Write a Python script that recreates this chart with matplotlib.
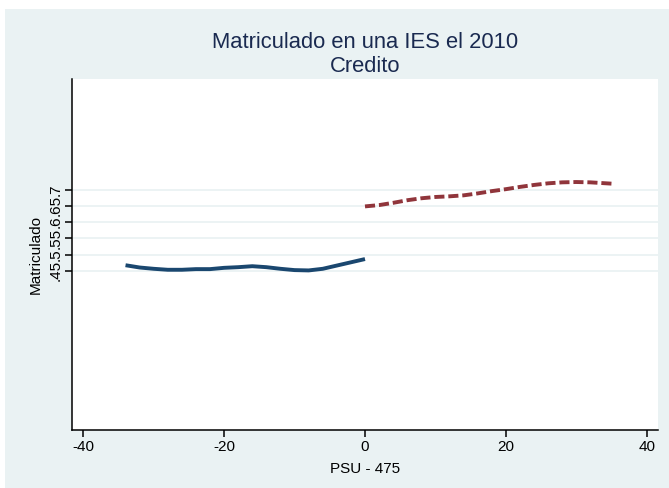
import matplotlib
matplotlib.use('Agg')
import matplotlib.pyplot as plt
from matplotlib.patches import Rectangle

plt.rcParams['font.family'] = ['Liberation Sans', 'DejaVu Sans']

# left of cutoff (PSU - 475 < 0)
x_left = [-34, -32, -30, -28, -26, -24, -22, -20, -18, -16, -14, -12, -10, -8, -6, -4, -2, 0]
y_left = [.467, .460, .456, .453, .453, .455, .455, .459, .461, .464, .461, .456, .452,
          .451, .456, .466, .476, .486]

# right of cutoff
x_right = [0, 2, 4, 6, 8, 10, 12, 14, 16, 18, 20, 22, 24, 26, 28, 30, 32, 35]
y_right = [.648, .652, .659, .667, .673, .677, .679, .682, .688, .695, .701, .708, .714,
           .719, .722, .723, .722, .718]

yticks = [.45, .5, .55, .6, .65, .7]
ytick_labels = ['.45', '.5', '.55', '.6', '.65', '.7']
xticks = [-40, -20, 0, 20, 40]

W, H = 669, 488
bg = '#EAF2F3'
fig = plt.figure(figsize=(W / 100, H / 100), dpi=100, facecolor=bg)
# white strips on top and left (exported stata graph)
fig.patches.append(Rectangle((0, 1 - 9 / H), 1, 9 / H, transform=fig.transFigure,
                             facecolor='white', edgecolor='none', zorder=-10))
fig.patches.append(Rectangle((0, 0), 5 / W, 1, transform=fig.transFigure,
                             facecolor='white', edgecolor='none', zorder=-10))

ax = fig.add_axes([72 / W, (H - 430) / H, (658 - 72) / W, (430 - 79) / H])
ax.set_facecolor('white')

for yt in yticks:
    ax.axhline(yt, color=bg, lw=1.3, zorder=1)

ax.plot(x_left, y_left, color='#1A476F', lw=2.8, solid_capstyle='butt', zorder=3)
ax.plot(x_right, y_right, color='#90353B', lw=2.8, dashes=(2.6, 1.0), zorder=3)

ax.set_xlim(-41.6, 41.6)
ax.set_ylim(-0.04, 1.04)

ax.set_xticks(xticks)
ax.set_xticklabels([str(v) for v in xticks], fontsize=11)
ax.set_yticks(yticks)
ax.set_yticklabels(ytick_labels, fontsize=11, rotation=90, va='center')

for s in ['top', 'right']:
    ax.spines[s].set_visible(False)
for s in ['left', 'bottom']:
    ax.spines[s].set_linewidth(1.1)
ax.tick_params(length=5, width=1.1, pad=2)

ax.set_xlabel('PSU - 475', fontsize=11, labelpad=6)
ax.set_ylabel('Matriculado', fontsize=11, labelpad=4)

fig.text((72 + 658) / 2 / W, 1 - 42 / H, 'Matriculado en una IES el 2010', ha='center',
         va='center', fontsize=15.8, color='#1A2A50')
fig.text((72 + 658) / 2 / W, 1 - 66 / H, 'Credito', ha='center', va='center',
         fontsize=15.8, color='#1A2A50')

fig.savefig('out.png', dpi=100, facecolor=bg)
